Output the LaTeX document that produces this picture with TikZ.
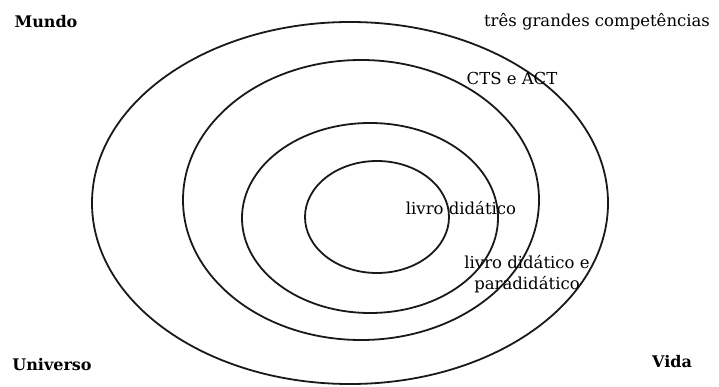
\documentclass[tikz,border=0pt]{standalone}
\usepackage{fontspec}
\setmainfont{DejaVu Serif}
\usepackage{tikz}
\usetikzlibrary{positioning}

\tikzset{
    ring/.style={draw=black!90, line width=1.8pt},
    corner/.style={font=\fontsize{16}{19}\selectfont\bfseries, inner sep=0pt},
    ringlabel/.style={font=\fontsize{16.5}{21}\selectfont, inner sep=0pt, align=center}
}

\begin{document}
\begin{tikzpicture}[x=1pt, y=-1pt]
            \useasboundingbox (0,0) rectangle (719,387);
            % rings, from outside in
            \foreach \cx/\cy/\rx/\ry in {350/203/258/181, 361/200/178/140, 370/218/128/95, 377/217/72/56} {
                \draw[ring] (\cx,\cy) ellipse [x radius=\rx pt, y radius=\ry pt];
            }
            % labels
            \node[corner] (mundo) at (46,22) {Mundo};
            \node[corner] (universo) at (52,365) {Universo};
            \node[corner] (vida) at (672,362) {Vida};
            \node[ringlabel] (tres) at (597,22) {três grandes competências};
            \node[ringlabel] (cts) at (512,78) {CTS e ACT};
            \node[ringlabel] (livro) at (461,208) {livro didático};
            \node[ringlabel] (para) at (527,274) {livro didático e\\paradidático};
        \end{tikzpicture}
\end{document}
